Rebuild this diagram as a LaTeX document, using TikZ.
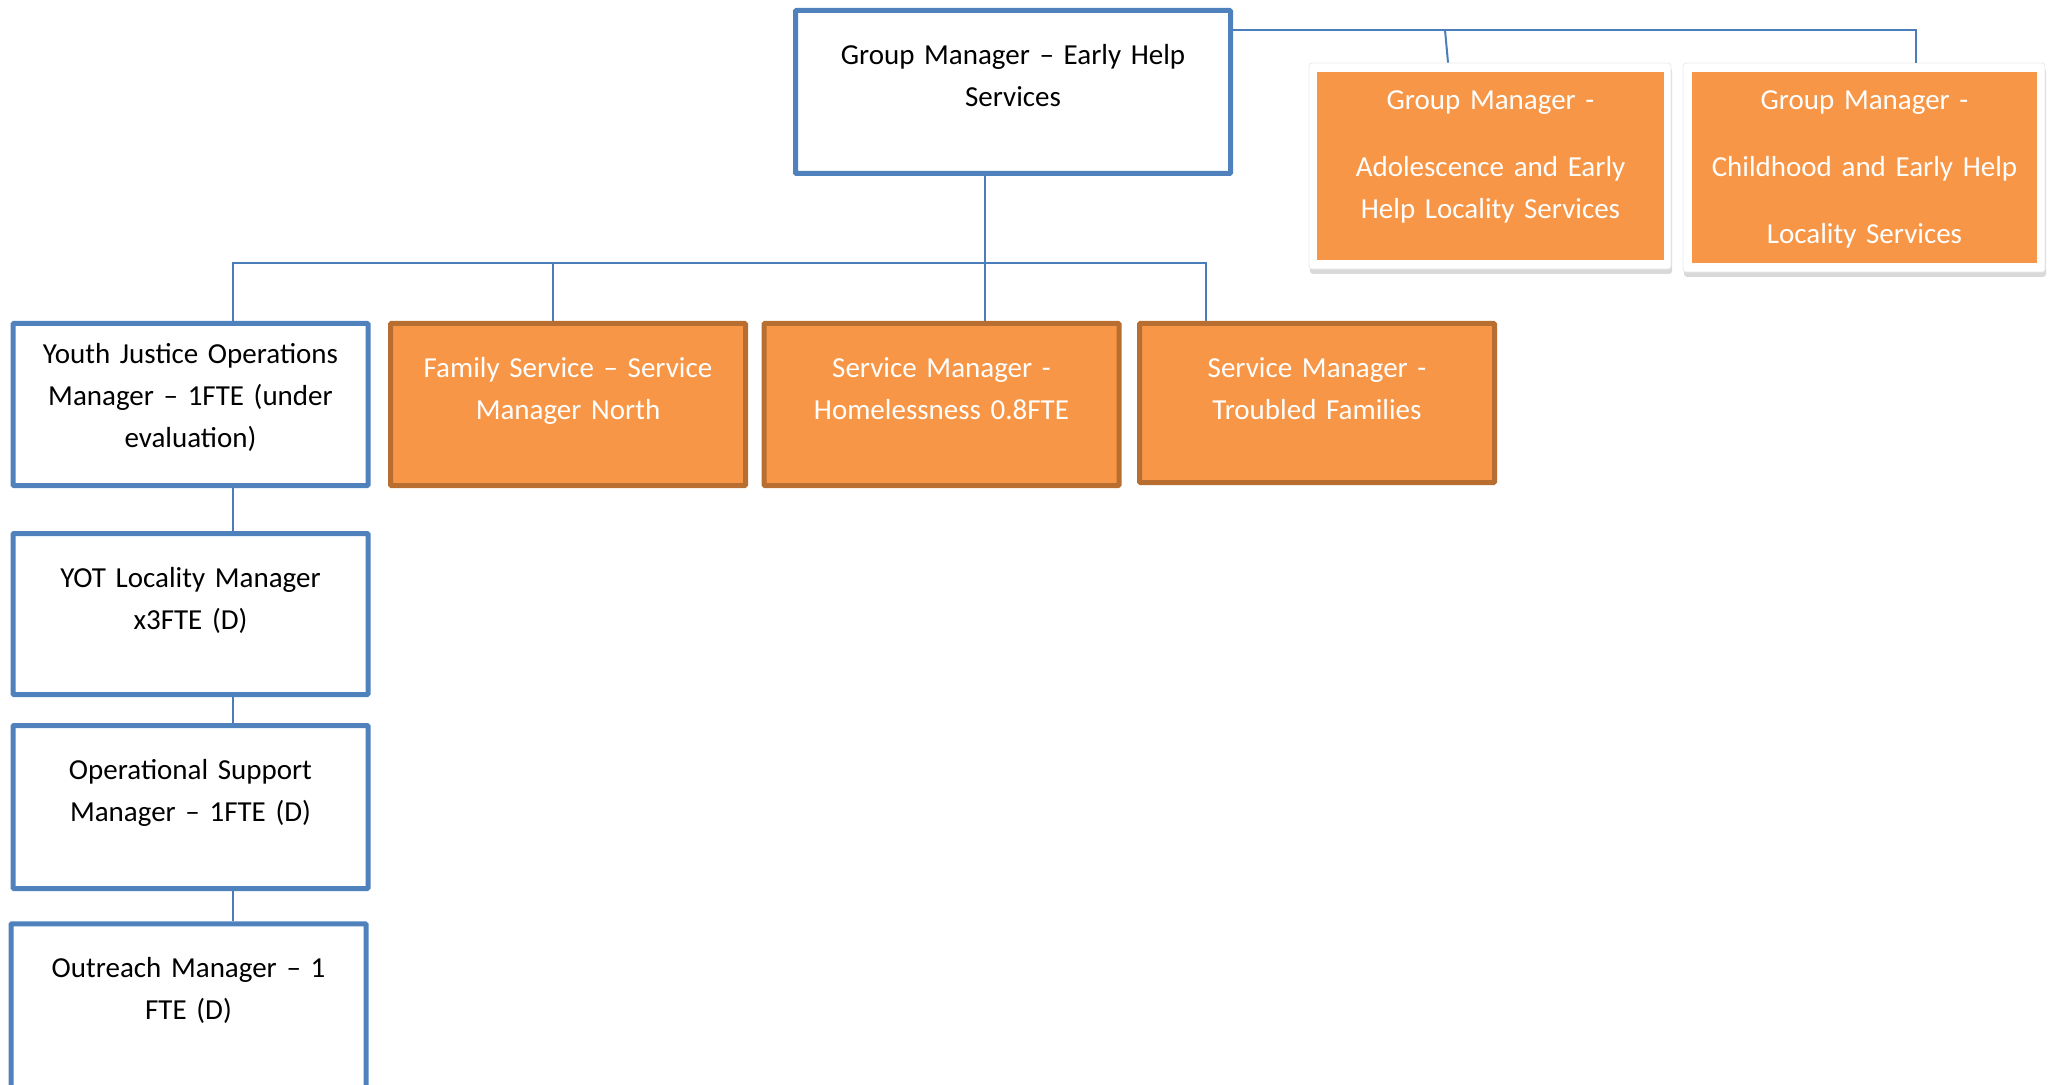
\documentclass[tikz,border=0pt]{standalone}
\usepackage{fontspec}
\setmainfont{Carlito}
\usetikzlibrary{shadows}
\definecolor{boxblue}{RGB}{79,129,189}
\definecolor{linkblue}{RGB}{74,126,187}
\definecolor{boxorange}{RGB}{247,150,70}
\definecolor{edgeorange}{RGB}{184,110,48}

\begin{document}
\begin{tikzpicture}[x=0.5pt, y=-0.5pt,
	every node/.style={inner sep=0pt, align=center, font=\fontsize{14.5}{21}\selectfont},
	bluebox/.style={draw=boxblue, line width=2.5pt, fill=white, rounded corners=0.5pt, text width=177.5pt, text height=27pt, text depth=54pt},
	orangebox/.style={bluebox, draw=edgeorange, fill=boxorange, text=white},
	shadowframe/.style={fill=white, draw=black!8, line width=0.4pt, rounded corners=1.5pt, minimum width=181pt, minimum height=103pt, drop shadow={opacity=0.3, shadow xshift=0.5pt, shadow yshift=-2.5pt}},
	orangetop/.style={fill=boxorange, text=white, text width=173.5pt, text height=19pt, text depth=75pt},
	link/.style={draw=linkblue, line width=1pt}]
	\clip (0,0) rectangle (2049,1085);
	
	\node[bluebox, text width=217.5pt, text depth=54.5pt] (gm) at (1013,92) {Group Manager -- Early Help\\Services};
	\node[bluebox, text height=20pt, text depth=61pt] (yj) at (190.5,404.5) {Youth Justice Operations\\Manager -- 1FTE (under\\evaluation)};
	\node[orangebox] (fam) at (568,404.5) {Family Service -- Service\\Manager North};
	\node[orangebox] (hom) at (941.5,404.5) {Service Manager -\\Homelessness 0.8FTE};
	\node[orangebox, text depth=52.5pt] (trb) at (1317,403) {Service Manager -\\Troubled Families};
	\node[bluebox, text depth=53.5pt] (yot) at (190.5,614) {YOT Locality Manager\\x3FTE (D)};
	\node[bluebox, text depth=54.5pt] (ops) at (190.5,807) {Operational Support\\Manager -- 1FTE (D)};
	\node[bluebox, text depth=61pt] (out) at (188.5,1011.75) {Outreach Manager -- 1\\FTE (D)};
	
	\node[shadowframe] (adolf) at (1490,166) {};
	\node[orangetop] (adol) at (1490.5,166) {Group Manager -\\[12.5pt]Adolescence and Early\\Help Locality Services};
	\node[shadowframe, minimum height=104.5pt] (childf) at (1864,167.5) {};
	\node[orangetop, text width=172.5pt, text depth=76.5pt] (child) at (1864.5,167.5) {Group Manager -\\[12.5pt]Childhood and Early Help\\[12.5pt]Locality Services};
	
	% links
	\coordinate (hub) at (985,263);
	\coordinate (split) at (1445,30);
	\draw[link] (gm.south -| hub) -- (hub);
	\draw[link] (hub) -| (yj.north -| 233,0);
	\draw[link] (hub) -| (fam.north -| 553,0);
	\draw[link] (hub) -- (hom.north -| hub);
	\draw[link] (hub) -| (trb.north -| 1206,0);
	\draw[link] (yj.south -| 233,0) -- (yot.north -| 233,0);
	\draw[link] (yot.south -| 233,0) -- (ops.north -| 233,0);
	\draw[link] (ops.south -| 233,0) -- (out.north -| 233,0);
	\draw[link] (gm.east |- 0,30) -| (childf.north -| 1916,0);
	\draw[link] (split) -- (adolf.north -| 1448,0);
\end{tikzpicture}
\end{document}
